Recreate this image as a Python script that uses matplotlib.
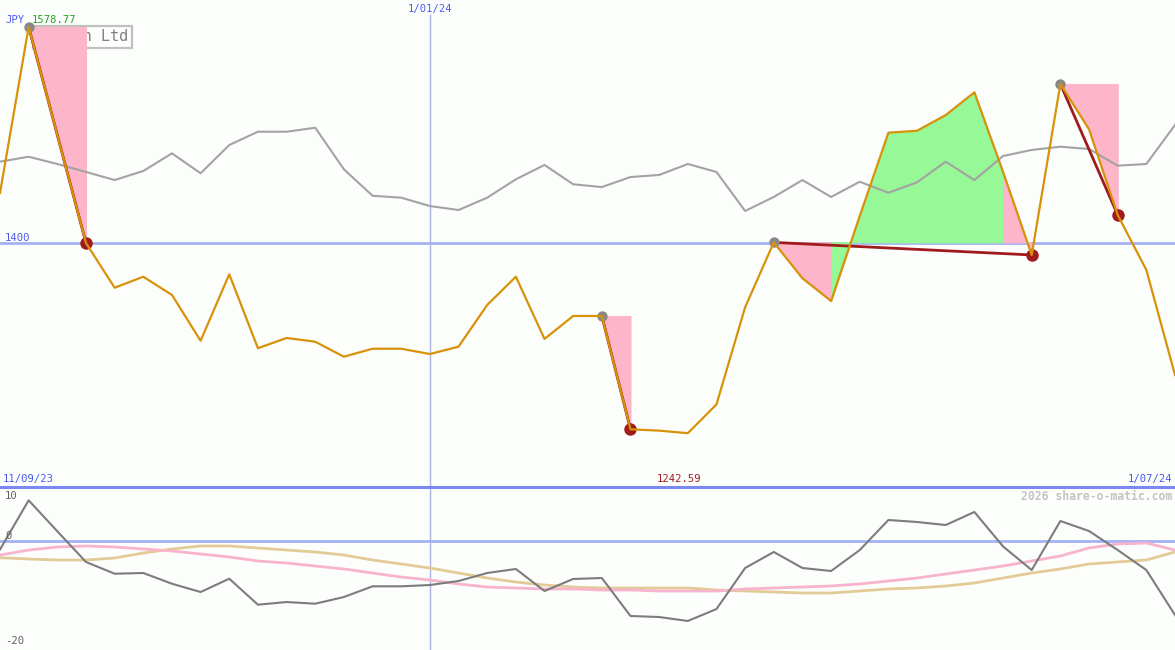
import numpy as np
import matplotlib
matplotlib.use("Agg")
import matplotlib.pyplot as plt

# ---------------- data ----------------
price = [1441.4, 1578.77, 1489.4, 1400.0, 1363.0, 1372.1, 1357.0, 1319.1, 1374.1, 1312.9,
         1321.4, 1318.3, 1305.9, 1312.5, 1312.5, 1308.1, 1314.2, 1348.7, 1372.1, 1320.6,
         1339.6, 1339.6, 1245.8, 1244.7, 1242.59, 1266.4, 1346.8, 1400.5, 1370.8, 1352.0,
         1422.3, 1491.3, 1492.9, 1505.9, 1524.7, 1458.8, 1390.1, 1531.6, 1494.1, 1423.2,
         1377.7, 1290.8]
index_line = [1467.3, 1471.4, 1465.4, 1458.8, 1452.1, 1459.6, 1474.2, 1457.7, 1481.1, 1492.1,
              1492.1, 1495.4, 1461.0, 1439.1, 1437.5, 1430.6, 1427.3, 1437.5, 1452.7, 1464.6,
              1448.6, 1446.3, 1454.6, 1456.3, 1465.4, 1458.8, 1426.5, 1438.1, 1452.1, 1438.1,
              1450.7, 1441.6, 1450.2, 1467.3, 1452.1, 1472.0, 1477.0, 1479.7, 1477.8, 1464.0,
              1465.4, 1497.7]
osc = [-1.5, 7.55, 1.85, -3.8, -5.96, -5.83, -7.8, -9.33, -6.88, -11.66,
       -11.17, -11.48, -10.25, -8.28, -8.28, -8.04, -7.3, -5.83, -5.09, -9.14,
       -6.93, -6.75, -13.74, -13.93, -14.66, -12.46, -4.91, -1.96, -4.91, -5.46,
       -1.6, 3.93, 3.56, 3.0, 5.4, -0.94, -5.28, 3.74, 1.9, -1.6,
       -5.28, -13.56]
osc_fast = [-2.52, -1.6, -1.04, -0.86, -1.04, -1.41, -1.78, -2.33, -2.88, -3.62,
            -3.99, -4.54, -5.09, -5.83, -6.57, -7.12, -7.85, -8.41, -8.59, -8.77,
            -8.77, -8.96, -8.96, -9.14, -9.14, -9.14, -8.77, -8.59, -8.41, -8.22,
            -7.85, -7.3, -6.75, -6.01, -5.28, -4.54, -3.62, -2.7, -1.23, -0.49,
            -0.31, -1.6]
osc_slow = [-3.01, -3.25, -3.44, -3.44, -3.07, -2.15, -1.41, -0.86, -0.86, -1.23,
            -1.6, -1.96, -2.52, -3.44, -4.17, -4.91, -5.83, -6.75, -7.49, -8.04,
            -8.41, -8.59, -8.59, -8.59, -8.59, -8.96, -9.14, -9.33, -9.51, -9.51,
            -9.14, -8.77, -8.59, -8.22, -7.67, -6.75, -5.83, -5.09, -4.17, -3.8,
            -3.44, -1.96]
moves = [(1, 3), (21, 22), (27, 36), (37, 39)]   # (start index, end index)
ref_level = 1400
start_label = "11/09/23"
mid_label = "1/01/24"
mid_index = 15
end_label = "1/07/24"
currency = "JPY"
title = "Nippon Ltd"
osc_ticks = [10, 0, -20]

# ---------------- figure ----------------
W, H = 1175, 650
bg = "#fcfefc"
fig = plt.figure(figsize=(W / 100, H / 100), dpi=100, facecolor=bg)
split = 487
ax = fig.add_axes([0, (H - split) / H, 1, split / H])
ax2 = fig.add_axes([0, 0, 1, (H - split) / H])
for a in (ax, ax2):
    a.set_axis_off()
    a.set_facecolor(bg)

x = np.arange(len(price))
p = np.array(price)
n = len(price)
ax.set_xlim(0, n - 1)
ax2.set_xlim(0, n - 1)
# main panel scale: 1400 at px 243, max at px 27
ppx = (max(price) - ref_level) / (243 - 27)
ax.set_ylim(ref_level - (split - 243) * ppx, ref_level + 243 * ppx)
ax2.set_ylim(-20, 10)

pink = "#fcb5c9"
green = "#96f896"
red = "#a01c1c"
orange = "#d8920a"

# fills per segment relative to the move's start level
for s, e in moves:
    base = p[s]
    for k in range(s, e):
        col = green if p[k + 1] > base else pink
        ax.fill_between([k, k + 1], [p[k], p[k + 1]], base, facecolor=col,
                        edgecolor=col, lw=0.8, zorder=1)
    ax.plot([s, e], [p[s], p[e]], color=red, lw=2.0, zorder=2.5, solid_capstyle="butt")

ax.axhline(ref_level, color="#a4b2f2", lw=2, zorder=0.8)
ax.plot(x, index_line, color="#a3a3a3", lw=1.5, zorder=2)
ax.plot(x, p, color=orange, lw=1.6, zorder=4)
ax.plot([s for s, e in moves], p[[s for s, e in moves]], 'o', color="#888888", ms=7.5, zorder=3, mec="none")
ax.plot([e for s, e in moves], p[[e for s, e in moves]], 'o', color=red, ms=9, zorder=3, mec="none")

# vertical date line
ax.axvline(mid_index, ymin=0, ymax=(split - 15) / split, color="#aab2e0", lw=1, zorder=0.7)
ax2.axvline(mid_index, color="#aab2e0", lw=1, zorder=0.7)

# title box (partially hidden by the fill)
ax.text(37 / W, 1 - 37 / split, title, transform=ax.transAxes, fontsize=11,
        family="DejaVu Sans Mono", color="#808080", va="center", ha="left", zorder=0.5,
        bbox=dict(boxstyle="square,pad=0.25", fc="none", ec="#c0c0c0", lw=1.6))

mono = "DejaVu Sans Mono"
fs = 7.6
def ftext(px, py, s, **kw):
    fig.text(px / W, 1 - py / H, s, fontsize=kw.pop("fontsize", fs), family=mono, va="center", **kw)

ftext(5, 20, currency, color="#4a5af0", ha="left")
ftext(32, 20, f"{max(price):.2f}", color="#22a022", ha="left")
ftext(5, 238, str(ref_level), color="#4a5af0", ha="left")
ftext(430, 9, mid_label, color="#4a5af0", ha="center")
ftext(3, 479, start_label, color="#4a5af0", ha="left")
ftext(1172, 479, end_label, color="#4a5af0", ha="right")
ftext(679 + (np.argmin(price) - 24) * W / (n - 1), 479, f"{min(price):.2f}", color=red, ha="center")
ftext(1172, 496, "2026 share-o-matic.com", color="#c4c4c4", ha="right", fontsize=8.3, weight="bold")

# separator
fig.add_artist(plt.Line2D([0, 1], [1 - split / H, 1 - split / H], color="#7a88f2", lw=2.2))

# lower panel
ax2.axhline(0, color="#a4b2f2", lw=2, zorder=0.8)
ax2.plot(x, osc_slow, color="#e3cb98", lw=2, zorder=2)
ax2.plot(x, osc_fast, color="#f8b4cc", lw=2, zorder=2.1)
ax2.plot(x, osc, color="#7c7c7c", lw=1.5, zorder=3)
ftext(5, 496, str(osc_ticks[0]), color="#606060", ha="left")
ftext(5, 536, str(osc_ticks[1]), color="#606060", ha="left")
ftext(5, 641, str(osc_ticks[2]), color="#606060", ha="left")

fig.savefig("out.png", dpi=100, facecolor=bg)
